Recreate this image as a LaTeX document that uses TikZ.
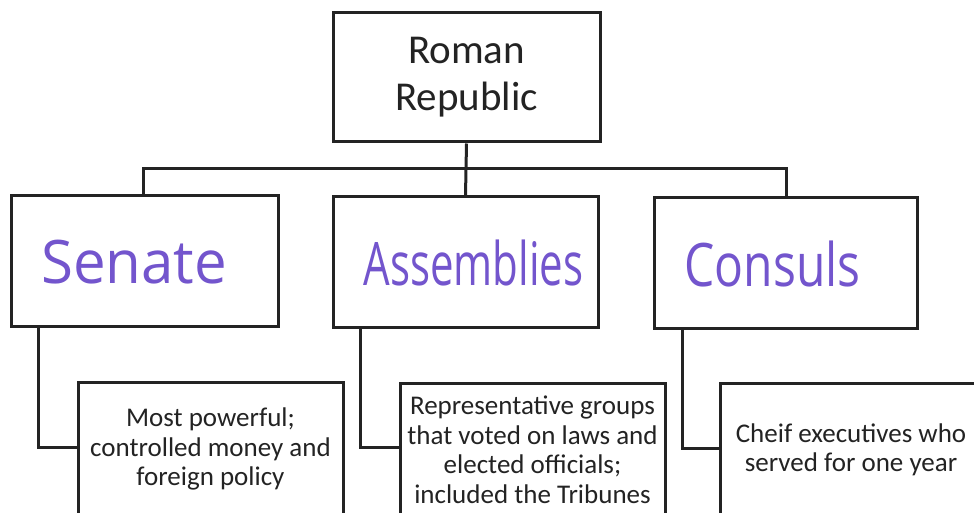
\documentclass[tikz,border=0pt]{standalone}
\usepackage{fontspec}
\setmainfont{Carlito}
\newfontfamily\handfont{Open Sans}
\definecolor{ink}{RGB}{35,35,35}
\definecolor{pen}{RGB}{115,85,205}
\begin{document}
\begin{tikzpicture}[x=1pt,y=-1pt,
  box/.style={draw=ink,line width=3pt,fill=white,inner sep=0pt,align=center,text=ink},
  conn/.style={draw=ink,line width=3pt},
  hand/.style={text=pen,font=\handfont\fontsize{60}{66}\selectfont},
  detail/.style={font=\fontsize{27}{29.5}\selectfont}]
\useasboundingbox (0,0) rectangle (974,513);
\clip (0,0) rectangle (974,513);
% top
\node[box,minimum width=267pt,minimum height=129pt,font=\fontsize{41}{47}\selectfont] (top) at (466.5,77.5) {Roman\\Republic};
% level 2
\node[box,minimum width=267pt,minimum height=130pt] (senate) at (144.5,261) {};
\node[box,minimum width=265pt,minimum height=130pt] (assem) at (465.5,262) {};
\node[box,minimum width=263pt,minimum height=130pt] (consul) at (785.5,263) {};
\node[hand,xscale=0.97] (senatet) at (134,262) {Senate};
\node[hand,xscale=0.70] (assemt) at (473.5,263) {Assemblies};
\node[hand,xscale=0.80] (consult) at (772.5,264) {Consuls};
% connectors top
\coordinate (hl) at (143,169);
\coordinate (hr) at (786,169);
\draw[conn] (top.south) -- (assem.north);
\draw[conn] (senate.north -| hl) -- (hl) -- (hr) -- (consul.north -| hr);
% level 3
\node[box,detail,minimum width=265pt,minimum height=134pt] (senated) at (210.5,449) {Most powerful;\\controlled money and\\foreign policy};
\node[box,detail,minimum width=265pt,minimum height=134pt] (assemd) at (532.5,450) {Representative groups\\that voted on laws and\\elected officials;\\included the Tribunes};
\node[box,detail,minimum width=262pt,minimum height=134pt] (consuld) at (851,450) {Cheif executives who\\served for one year};
\draw[conn] (senate.south -| 38,0) |- (senated.west |- 0,447);
\draw[conn] (assem.south -| 360,0) |- (assemd.west |- 0,447);
\draw[conn] (consul.south -| 682,0) |- (consuld.west |- 0,448);
\end{tikzpicture}
\end{document}
